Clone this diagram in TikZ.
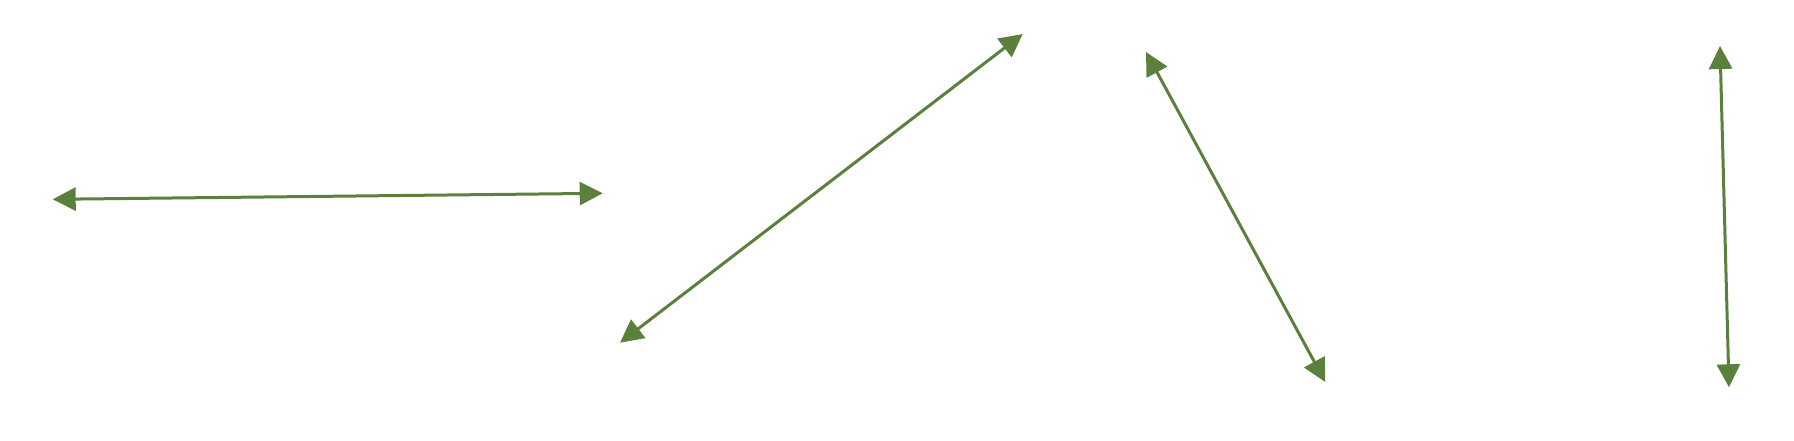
\documentclass[tikz,border=0pt]{standalone}
\usepackage{tikz}
\usetikzlibrary{arrows.meta}
\definecolor{mgreen}{HTML}{5B803C}
\tikzset{
  darr/.style={{Triangle[length=11.5pt,width=11.5pt]}-{Triangle[length=11.5pt,width=11.5pt]},
               line width=1.5pt, mgreen},
}
\begin{document}
\begin{tikzpicture}[x=0.5pt, y=-0.5pt]
  \useasboundingbox (0,0) rectangle (1794,440);

  % end points
  \coordinate (l1) at (52.7,199.3);
  \coordinate (r1) at (602.7,193.3);
  \coordinate (l2) at (620,342.7);
  \coordinate (r2) at (1022.7,34);
  \coordinate (l3) at (1146,52);
  \coordinate (r3) at (1325.3,382);
  \coordinate (t4) at (1720,46);
  \coordinate (b4) at (1729,387.3);

  % double arrows
  \draw[darr] (l1) -- (r1);
  \draw[darr] (l2) -- (r2);
  \draw[darr] (l3) -- (r3);
  \draw[darr] (t4) -- (b4);
\end{tikzpicture}
\end{document}
